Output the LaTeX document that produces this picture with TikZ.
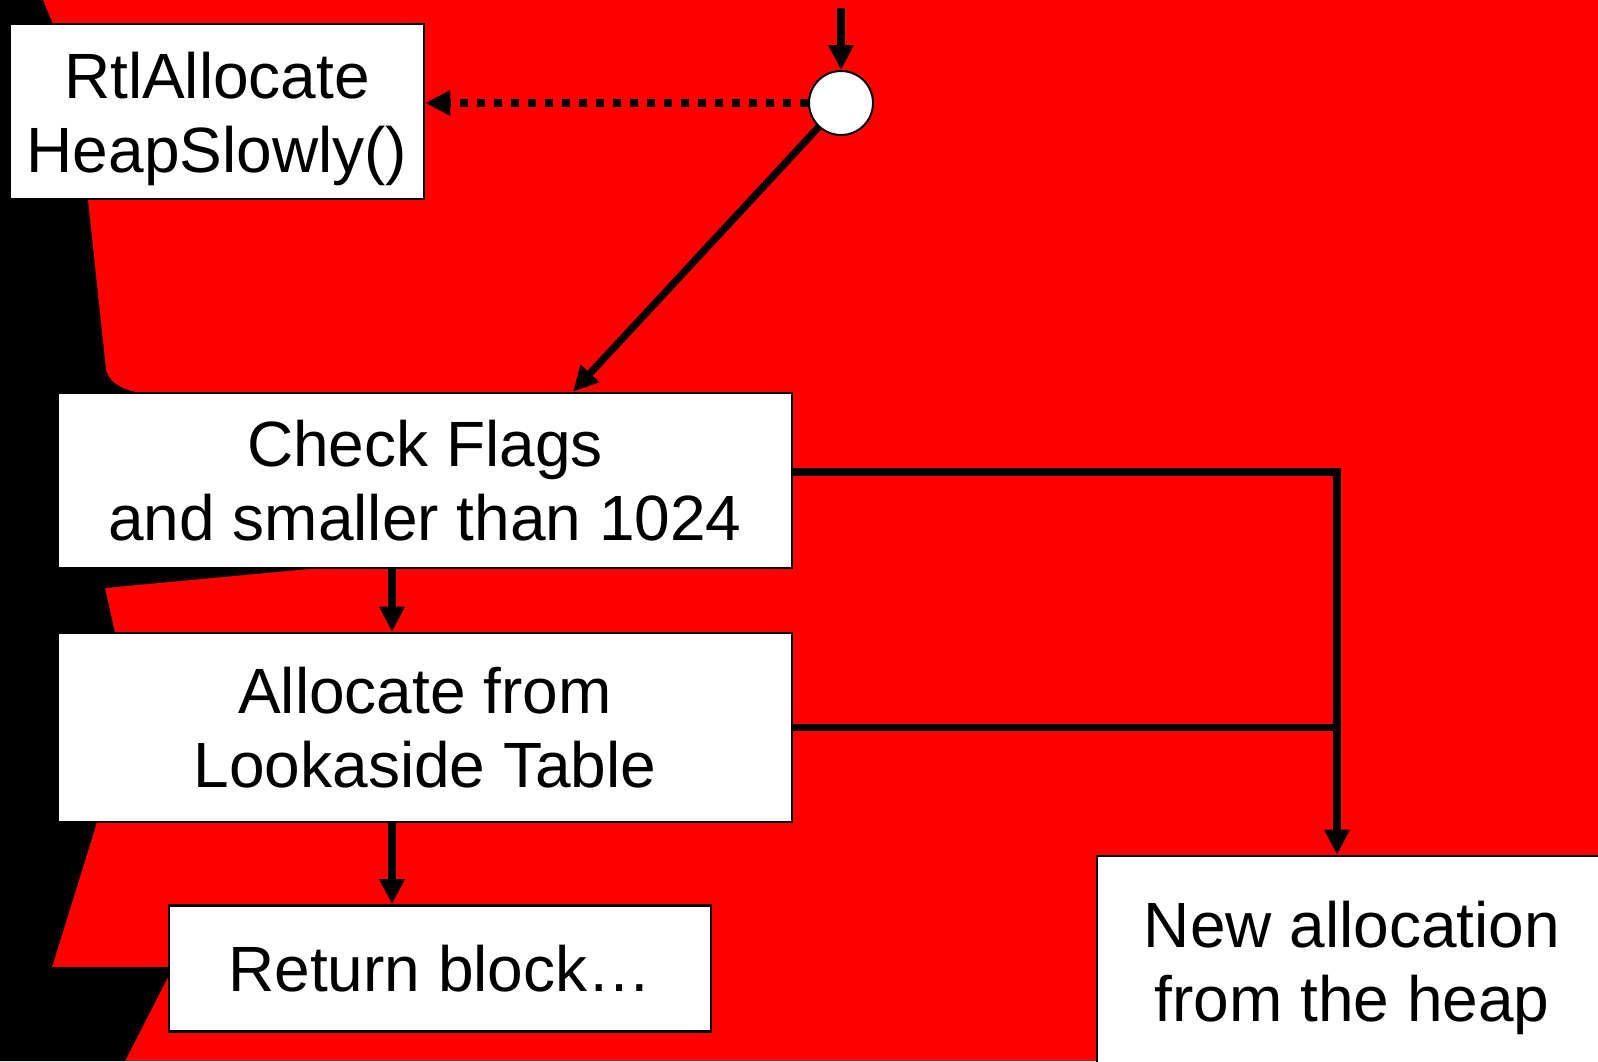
\documentclass[tikz,border=0pt]{standalone}
\usepackage{fontspec}
\setmainfont{Liberation Sans}
\usetikzlibrary{arrows.meta,calc}
\definecolor{bgred}{RGB}{255,0,0}
\begin{document}
\begin{tikzpicture}[x=0.5pt,y=-0.5pt,
  box/.style={draw=black,line width=1.3pt,fill=white,align=center,inner sep=0pt,
    font=\fontsize{32}{37}\selectfont},
  flow/.style={line width=3.6pt,-{Triangle[width=12pt,length=12.5pt]}},
  joinline/.style={line width=3.6pt},
  hint/.style={line width=3.6pt,dash pattern=on 4pt off 4.5pt,
    -{Triangle[width=12pt,length=12.5pt]}}]
\useasboundingbox (0,0) rectangle (1598,1061);
\clip (0,0) rectangle (1598,1061);
% backdrop
\fill[bgred] (0,0) rectangle (1598,1061);
\fill[black] (0,0) -- (43,0) -- (52,22) -- (60,100) -- (88,200) -- (106,370)
  .. controls (110,385) and (125,390) .. (140,393) -- (140,567) -- (330,567)
  -- (105,588) -- (115,633) -- (115,822) -- (97,822) -- (52,967) -- (169,967)
  -- (169,975) -- (125,1061) -- (0,1061) -- cycle;

% boxes
\node[box,minimum width=207pt,minimum height=87.5pt,
  label={[box,draw=none,fill=none,yshift=-3.5pt]center:RtlAllocate\\HeapSlowly()}]
  (slow) at (217,111.5) {};
\node[box,minimum width=367pt,minimum height=87.5pt] (chk) at (425,480.5)
  {Check Flags\\and smaller than 1024};
\node[box,minimum width=367pt,minimum height=94.5pt] (alloc) at (425,727.5)
  {Allocate from\\Lookaside Table};
\node[box,minimum width=271pt,minimum height=63pt] (ret) at (440,968.5)
  {Return block…};
\node[box,minimum width=255pt,minimum height=111.5pt] (heap) at (1352,967.5)
  {New allocation\\from the heap};
\node[circle,draw=black,fill=white,line width=1pt,minimum size=32pt,inner sep=0pt]
  (fork) at (841,103) {};

% connectors
\coordinate (entry) at (841,8);
\coordinate (lx) at (392,0);
\coordinate (busx) at (1337,0);
\draw[flow] (entry) -- (fork);
\draw[hint] (fork) -- (slow.east |- fork);
\draw[flow] (fork) -- ($(chk.north)+(148,0)$);
\draw[flow] (chk.south -| lx) -- (alloc.north -| lx);
\draw[flow] (alloc.south -| lx) -- (ret.north -| lx);
\draw[flow] ($(chk.east)+(0,-8.5)$) -| (heap.north -| busx);
\draw[joinline] (alloc.east) -- (alloc.east -| busx);
\end{tikzpicture}
\end{document}
